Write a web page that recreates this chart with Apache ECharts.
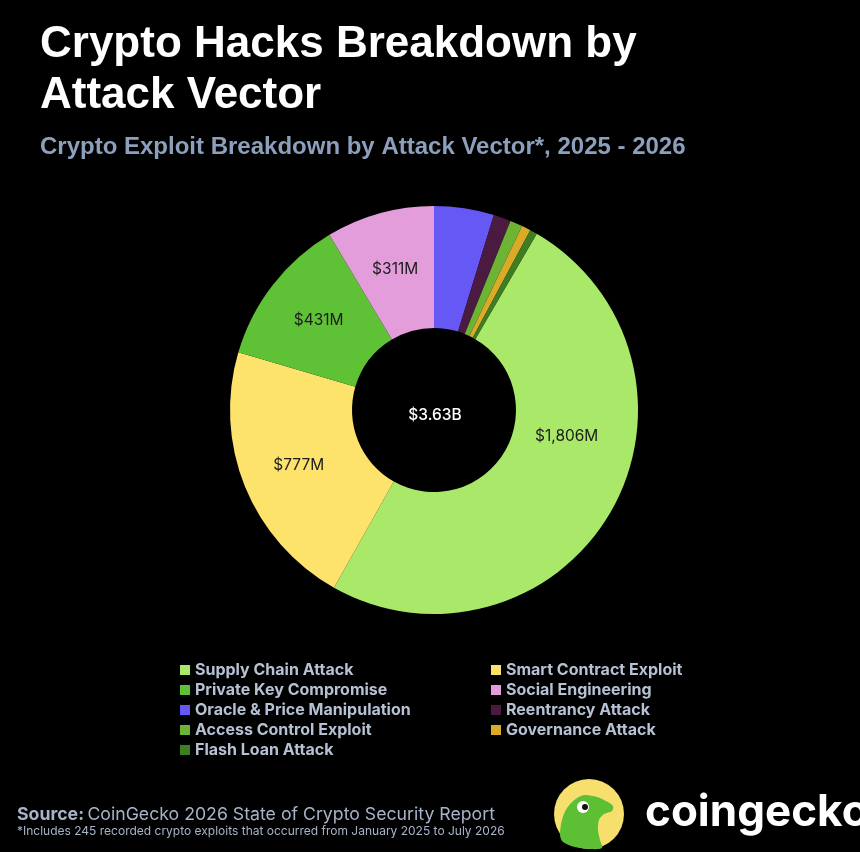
<!DOCTYPE html>
<html>
<head>
<meta charset="utf-8">
<script src="https://cdn.jsdelivr.net/npm/echarts@6/dist/echarts.min.js"></script>
<style>
html,body{margin:0;padding:0;background:#000;}
#chart{width:860px;height:852px;}
</style>
</head>
<body>
<div id="chart"></div>
<script>
// ---- data ----
const categories = [
  'Supply Chain Attack', 'Smart Contract Exploit', 'Private Key Compromise', 'Social Engineering',
  'Oracle & Price Manipulation', 'Reentrancy Attack', 'Access Control Exploit', 'Governance Attack',
  'Flash Loan Attack'
];
const valuesM = [1806, 777, 431, 311, 172, 50, 36, 26, 21];
const colors = ['#aae869', '#fde36b', '#5fc135', '#e49ddb', '#6658f5', '#4a1a40', '#6db334', '#d9ab28', '#3f7d22'];
const legendCol1 = ['Supply Chain Attack', 'Private Key Compromise', 'Oracle & Price Manipulation', 'Access Control Exploit', 'Flash Loan Attack'];
const legendCol2 = ['Smart Contract Exploit', 'Social Engineering', 'Reentrancy Attack', 'Governance Attack'];
const labelThresholdM = 250;

const total = valuesM.reduce((a, b) => a + b, 0);
const smallTail = valuesM.slice(4).reduce((a, b) => a + b, 0);
const startAngle = 90 - smallTail / total * 360;

const FONT = 'Inter, "Noto Sans", sans-serif';
const HEAD = '"Liberation Sans", Arial, sans-serif';

const chart = echarts.init(document.getElementById('chart'), null, {renderer: 'canvas'});

const pieData = categories.map((c, i) => ({
  name: c,
  value: valuesM[i],
  itemStyle: {color: colors[i]},
  label: {show: valuesM[i] >= labelThresholdM}
}));

const geckoPts = [
  [577, 798], [585, 795], [597, 797], [606, 801], [613, 806], [612, 811], [604, 814], [599, 820],
  [598, 830], [600, 840], [602, 848], [590, 849], [575, 847], [563, 842], [560, 835], [562, 820], [567, 808]
];

const option = {
  backgroundColor: '#000000',
  animation: false,
  title: [
    {
      text: 'Crypto Hacks Breakdown by\nAttack Vector',
      left: 35, top: 14,
      textStyle: {color: '#ffffff', fontSize: 44, fontWeight: 'bold', fontFamily: HEAD, lineHeight: 51}
    },
    {
      text: 'Crypto Exploit Breakdown by Attack Vector*, 2025 - 2026',
      left: 35, top: 130,
      textStyle: {color: '#8c9fbd', fontSize: 24, fontWeight: 'bold', fontFamily: HEAD}
    }
  ],
  legend: [
    {
      data: legendCol1, orient: 'vertical', left: 175, top: 657,
      itemWidth: 10, itemHeight: 10, itemGap: 4, icon: 'rect',
      selectedMode: false,
      textStyle: {color: '#b6c1d3', fontSize: 16, fontWeight: 'bold', fontFamily: FONT}
    },
    {
      data: legendCol2, orient: 'vertical', left: 486, top: 657,
      itemWidth: 10, itemHeight: 10, itemGap: 4, icon: 'rect',
      selectedMode: false,
      textStyle: {color: '#b6c1d3', fontSize: 16, fontWeight: 'bold', fontFamily: FONT}
    }
  ],
  series: [{
    type: 'pie',
    center: [434, 410],
    radius: [82, 204],
    startAngle: startAngle,
    clockwise: true,
    avoidLabelOverlap: false,
    label: {
      position: 'inside',
      color: '#1c1c1c',
      fontSize: 15.5,
      fontFamily: FONT,
      formatter: p => '$' + p.value.toLocaleString('en-US') + 'M'
    },
    labelLine: {show: false},
    labelLayout: function (params) {
      if (params.dataIndex === 0) return {dx: 6, dy: -46};
      return {};
    },
    emphasis: {disabled: true},
    itemStyle: {borderWidth: 0},
    data: pieData
  }],
  graphic: [
    {
      type: 'text',
      style: {
        text: '$' + (total / 1000).toFixed(2) + 'B',
        x: 435, y: 415, align: 'center', verticalAlign: 'middle',
        fill: '#ffffff', font: '500 15.5px ' + FONT
      }
    },
    {
      type: 'text',
      style: {
        x: 17, y: 815, verticalAlign: 'middle',
        rich: {
          b: {fill: '#a7b4c8', font: 'bold 17.7px ' + FONT},
          n: {fill: '#a7b4c8', font: '17.7px ' + FONT}
        },
        text: '{b|Source:} {n|CoinGecko 2026 State of Crypto Security Report}'
      }
    },
    {
      type: 'text',
      style: {
        x: 17, y: 831, verticalAlign: 'middle',
        text: '*Includes 245 recorded crypto exploits that occurred from January 2025 to July 2026',
        fill: '#a7b4c8', font: '12px ' + FONT
      }
    },
    {type: 'circle', shape: {cx: 589, cy: 814, r: 35}, style: {fill: '#f7df6e'}},
    {type: 'polygon', shape: {points: geckoPts, smooth: 0.3}, style: {fill: '#5cbf34'}},
    {type: 'circle', shape: {cx: 583, cy: 807, r: 6}, style: {fill: '#ffffff'}},
    {type: 'circle', shape: {cx: 585, cy: 807, r: 3}, style: {fill: '#111111'}},
    {
      type: 'text',
      style: {
        x: 645, y: 813, verticalAlign: 'middle',
        text: 'coingecko', fill: '#ffffff', font: 'bold 44px ' + FONT
      }
    }
  ]
};
chart.setOption(option);
</script>
</body>
</html>
